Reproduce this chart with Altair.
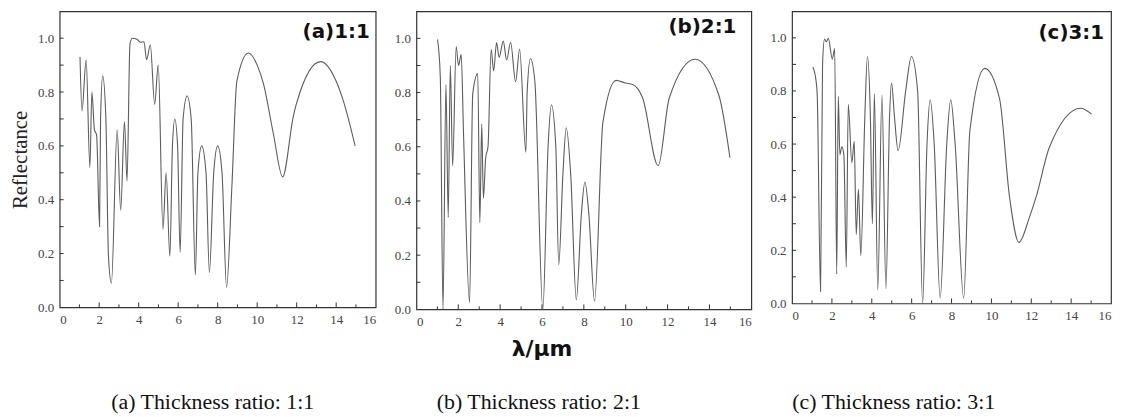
import altair as alt
import pandas as pd

# ---------------- data ----------------
A_X = [1.03, 1.13, 1.34, 1.53, 1.63, 1.76, 1.87, 2.02, 2.07, 2.18, 2.34, 2.47, 2.62, 2.91, 3.09,
       3.28, 3.41, 3.56, 3.68, 3.93, 4.10, 4.27, 4.40, 4.59, 4.81, 4.99, 5.23, 5.39, 5.58, 5.71,
       5.83, 5.97, 6.10, 6.25, 6.45, 6.66, 6.87, 7.0, 7.19, 7.41, 7.58, 7.8, 8.0, 8.22, 8.45,
       8.72, 8.97, 9.56, 10.0, 10.32, 10.82, 11.29, 11.83, 12.0, 13.21, 14.0, 14.35, 14.96]
A_Y = [0.93, 0.73, 0.92, 0.52, 0.80, 0.66, 0.64, 0.30, 0.70, 0.86, 0.70, 0.19, 0.09, 0.66, 0.36,
       0.69, 0.47, 0.98, 1.00, 0.995, 0.985, 0.987, 0.92, 0.975, 0.755, 0.90, 0.29, 0.50, 0.19, 0.60,
       0.70, 0.60, 0.205, 0.70, 0.785, 0.70, 0.12, 0.50, 0.60, 0.50, 0.13, 0.50, 0.60, 0.50, 0.075,
       0.45, 0.84, 0.945, 0.90, 0.83, 0.645, 0.485, 0.71, 0.76, 0.913, 0.84, 0.77, 0.60]

B_X = [1.01, 1.14, 1.27, 1.41, 1.52, 1.62, 1.73, 1.90, 2.01, 2.14, 2.25, 2.54, 2.69, 2.93, 3.03,
       3.12, 3.20, 3.31, 3.42, 3.57, 3.69, 3.83, 3.95, 4.15, 4.31, 4.50, 4.74, 4.93, 5.23, 5.29,
       5.45, 5.66, 6.04, 6.29, 6.45, 6.66, 6.80, 7.0, 7.16, 7.37, 7.64, 7.88, 8.05, 8.24, 8.51,
       8.91, 9.54, 10.0, 10.33, 10.81, 11.55, 12.08, 13.31, 14.45, 14.98]
B_Y = [0.996, 0.86, 0.0, 0.83, 0.34, 0.90, 0.53, 0.97, 0.90, 0.94, 0.65, 0.025, 0.795, 0.87, 0.32,
       0.685, 0.41, 0.56, 0.60, 0.96, 0.88, 0.985, 0.93, 0.99, 0.92, 0.985, 0.84, 0.96, 0.58, 0.80,
       0.925, 0.84, 0.0, 0.60, 0.755, 0.60, 0.165, 0.50, 0.67, 0.50, 0.035, 0.35, 0.47, 0.35, 0.03,
       0.69, 0.845, 0.835, 0.83, 0.78, 0.53, 0.78, 0.923, 0.79, 0.56]

C_X = [1.04, 1.16, 1.26, 1.43, 1.53, 1.63, 1.72, 1.82, 2.02, 2.14, 2.24, 2.32, 2.40, 2.50, 2.60,
       2.72, 2.82, 3.00, 3.12, 3.22, 3.33, 3.45, 3.65, 3.78, 3.93, 4.03, 4.13, 4.30, 4.51, 4.71,
       4.89, 4.99, 5.14, 5.32, 5.70, 5.99, 6.30, 6.55, 6.77, 6.93, 7.13, 7.43, 7.76, 7.96, 8.18,
       8.61, 8.92, 9.67, 10.41, 10.91, 11.38, 11.91, 12.24, 12.90, 14.48, 15.02]
C_Y = [0.89, 0.86, 0.79, 0.045, 0.90, 0.995, 0.985, 0.998, 0.92, 0.96, 0.11, 0.78, 0.56, 0.59, 0.56,
       0.137, 0.75, 0.53, 0.61, 0.26, 0.43, 0.18, 0.70, 0.93, 0.70, 0.30, 0.79, 0.05, 0.785, 0.055,
       0.70, 0.83, 0.70, 0.575, 0.80, 0.93, 0.80, 0.0, 0.60, 0.767, 0.60, 0.02, 0.60, 0.767, 0.60,
       0.02, 0.65, 0.885, 0.77, 0.40, 0.23, 0.325, 0.40, 0.586, 0.735, 0.713]

X_LABELS = [0, 2, 4, 6, 8, 10, 12, 14, 16]
X_MAJOR = [2, 4, 6, 8, 10, 12, 14]
X_MINOR = [1, 3, 5, 7, 9, 11, 13, 15]
Y_LABELS = [0.0, 0.2, 0.4, 0.6, 0.8, 1.0]
Y_TICKS = [0.1, 0.2, 0.3, 0.4, 0.5, 0.6, 0.7, 0.8, 0.9, 1.0]

PANEL_LABELS = ["(a)1:1", "(b)2:1", "(c)3:1"]
CAPTIONS = ["(a) Thickness ratio: 1:1", "(b) Thickness ratio: 2:1", "(c) Thickness ratio: 3:1"]
X_TITLE = "λ/μm"
Y_TITLE = "Reflectance"

SERIF = "Liberation Serif"
SANS = "DejaVu Sans"
FRAME = "#333333"


def panel(xs, ys, label, label_xy, caption, caption_xy, width, height, ytitle, xtitle_xy=None):
    xscale = alt.Scale(domain=[0, 16], nice=False, zero=False)
    yscale = alt.Scale(domain=[0, 1.1], nice=False, zero=False)
    xaxis = alt.Axis(values=X_LABELS, format="d", title=None, ticks=False, tickSize=0,
                     domain=False, grid=False, labelFont=SERIF, labelFontSize=13,
                     labelColor="#444444", labelPadding=6)
    yaxis_kw = dict(values=Y_LABELS, format=".1f", ticks=False, tickSize=0, domain=False,
                    grid=False, labelFont=SERIF, labelFontSize=13, labelColor="#444444",
                    labelPadding=6)
    if ytitle:
        yaxis = alt.Axis(title=ytitle, titleFont=SERIF, titleFontSize=21,
                         titleFontWeight="normal", titleColor="#222222", titlePadding=7,
                         **yaxis_kw)
    else:
        yaxis = alt.Axis(title=None, **yaxis_kw)

    def X(f):
        return alt.X(f, type="quantitative", scale=xscale, axis=xaxis)

    def Y(f):
        return alt.Y(f, type="quantitative", scale=yscale, axis=yaxis)

    df = pd.DataFrame({"x": xs, "y": ys})
    line = alt.Chart(df).mark_line(color="#5c5c5c", strokeWidth=1.1,
                                   interpolate="monotone").encode(x=X("x"), y=Y("y"))

    major = alt.Chart(pd.DataFrame({"t": X_MAJOR})).mark_rule(
        color=FRAME, strokeWidth=1).encode(x=X("t"), y=alt.value(height), y2=alt.value(height - 5))
    minor = alt.Chart(pd.DataFrame({"t": X_MINOR})).mark_rule(
        color=FRAME, strokeWidth=1).encode(x=X("t"), y=alt.value(height), y2=alt.value(height - 3))
    yt = alt.Chart(pd.DataFrame({"t": Y_TICKS})).mark_rule(
        color=FRAME, strokeWidth=1).encode(y=Y("t"), x=alt.value(0), x2=alt.value(4))

    lab = alt.Chart(pd.DataFrame({"x": [label_xy[0]], "y": [label_xy[1]], "s": [label]})).mark_text(
        align="right", baseline="alphabetic", font=SANS, fontWeight="bold", fontSize=20,
        color="#111111").encode(x=X("x"), y=Y("y"), text="s:N")

    cap = alt.Chart(pd.DataFrame({"x": [caption_xy[0]], "y": [caption_xy[1]], "s": [caption]})).mark_text(
        align="center", baseline="alphabetic", font=SERIF, fontSize=22,
        color="#111111").encode(x=X("x"), y=Y("y"), text="s:N")

    layers = [line, major, minor, yt, lab, cap]
    if xtitle_xy is not None:
        xt = alt.Chart(pd.DataFrame({"x": [xtitle_xy[0]], "y": [xtitle_xy[1]], "s": [X_TITLE]})).mark_text(
            align="center", baseline="alphabetic", font=SANS, fontWeight="bold", fontSize=22,
            color="#111111").encode(x=X("x"), y=Y("y"), text="s:N")
        layers.append(xt)
    return alt.layer(*layers).properties(width=width, height=height)


pa = panel(A_X, A_Y, PANEL_LABELS[0], (15.7, 1.0), CAPTIONS[0], (7.75, -0.377), 318, 298, Y_TITLE)
pb = panel(B_X, B_Y, PANEL_LABELS[1], (15.29, 1.02), CAPTIONS[1], (5.85, -0.367), 337, 300, None,
           xtitle_xy=(6.0, -0.172))
pc = panel(C_X, C_Y, PANEL_LABELS[2], (15.65, 0.995), CAPTIONS[2], (5.1, -0.397), 321, 294, None)

chart = alt.hconcat(pa, pb, pc, spacing=41, bounds="flush").configure_view(
    stroke=FRAME, strokeWidth=1.2).configure_axis(
    labelFont=SERIF, labelFontSize=13).properties(
    padding={"left": 1, "top": 1, "right": 3, "bottom": 2}, background="white")

chart.save("out.html", embed_options={"renderer": "svg", "actions": False})
